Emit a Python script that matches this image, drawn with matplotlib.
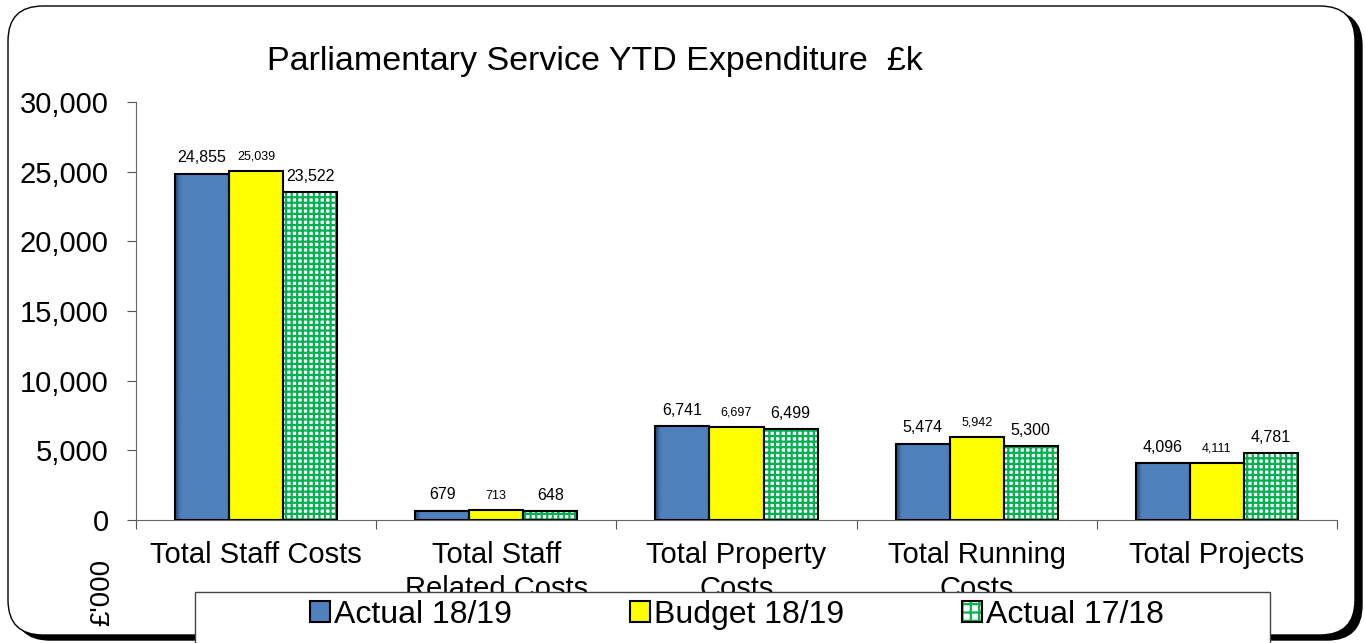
import numpy as np
import matplotlib.pyplot as plt
from matplotlib.patches import FancyBboxPatch, Rectangle, Patch
from matplotlib.colors import LinearSegmentedColormap

plt.rcParams['font.family'] = ['Liberation Sans', 'DejaVu Sans']
plt.rcParams['hatch.linewidth'] = 1.6

# data (£k)
categories = ["Total Staff Costs", "Total Staff\nRelated Costs", "Total Property\nCosts",
              "Total Running\nCosts", "Total Projects"]
actual_1819 = [24855, 679, 6741, 5474, 4096]
budget_1819 = [25039, 713, 6697, 5942, 4111]
actual_1718 = [23522, 648, 6499, 5300, 4781]
series_names = ["Actual 18/19", "Budget 18/19", "Actual 17/18"]

blue = "#4F81BD"
yellow = "#FFFF00"
green = "#00B050"

fig = plt.figure(figsize=(13.65, 6.43), dpi=100)

# rounded outer frame with drop shadow (in inches so corners stay round)
shadow = FancyBboxPatch((0.15, 0.03), 13.47, 6.29, boxstyle="round,pad=0,rounding_size=0.35",
                        transform=fig.dpi_scale_trans, facecolor="black", edgecolor="black", lw=1)
frame = FancyBboxPatch((0.08, 0.08), 13.47, 6.29, boxstyle="round,pad=0,rounding_size=0.35",
                       transform=fig.dpi_scale_trans, facecolor="white", edgecolor="black", lw=1)
shadow.set_zorder(-2)
frame.set_zorder(-1)
fig.add_artist(shadow)
fig.add_artist(frame)

ax = fig.add_axes([0.0996, 0.1913, 0.8799, 0.650])
ax.patch.set_alpha(0)

x = np.arange(len(categories))
w = 0.225

blue_bars = ax.bar(x - w, actual_1819, w, color=blue, lw=0, zorder=2)
ax.bar(x - w, actual_1819, w, fill=False, edgecolor="black", lw=1.5, zorder=3)
ax.bar(x, budget_1819, w, color=yellow, edgecolor="black", lw=1.5, zorder=2)
ax.bar(x + w, actual_1718, w, color="white", edgecolor=green, hatch="+++", lw=0, zorder=2)
ax.bar(x + w, actual_1718, w, fill=False, edgecolor="black", lw=1.5, zorder=3)

# darker shading on the left edge of the blue bars
shade = LinearSegmentedColormap.from_list("shade", ["#27466e", blue, blue, "#46729f"])
grad = np.concatenate([np.linspace(0, 0.45, 12), np.full(60, 0.5), np.linspace(0.55, 1, 8)])[None, :]
for b in blue_bars:
    im = ax.imshow(grad, cmap=shade, vmin=0, vmax=1, aspect="auto", zorder=2.5,
                   extent=[b.get_x(), b.get_x() + b.get_width(), 0, b.get_height()])
    im.set_clip_path(b)

# value labels
for xi, v in zip(x - w, actual_1819):
    ax.annotate(f"{v:,}", (xi, v), xytext=(0, 6), textcoords="offset points",
                ha="center", va="bottom", fontsize=11.5)
for xi, v in zip(x, budget_1819):
    ax.annotate(f"{v:,}", (xi, v), xytext=(0, 6), textcoords="offset points",
                ha="center", va="bottom", fontsize=9)
for xi, v in zip(x + w, actual_1718):
    ax.annotate(f"{v:,}", (xi, v), xytext=(0, 6), textcoords="offset points",
                ha="center", va="bottom", fontsize=11.5)

ax.set_xlim(-0.5, len(categories) - 0.5)
ax.set_ylim(0, 30000)
yt = np.arange(0, 30001, 5000)
ax.set_yticks(yt)
ax.set_yticklabels([f"{t:,}" for t in yt], fontsize=21)

# category separators as major ticks, labels on minor ticks
ax.set_xticks(np.arange(-0.5, len(categories)))
ax.set_xticklabels([])
ax.set_xticks(x, minor=True)
ax.set_xticklabels(categories, minor=True, fontsize=21, linespacing=1.3)
ax.tick_params(axis="x", which="minor", length=0, pad=15)
ax.tick_params(axis="x", which="major", length=6.5, color="#555555")
ax.tick_params(axis="y", length=6.5, color="#555555", pad=13)

for s in ["top", "right"]:
    ax.spines[s].set_visible(False)
for s in ["left", "bottom"]:
    ax.spines[s].set_color("#666666")

fig.text(0.436, 0.9036, "Parliamentary Service YTD Expenditure  £k", fontsize=24.5,
         ha="center", va="center")
fig.text(102 / 1365, 1 - 592 / 643, "£'000", rotation=90, fontsize=20,
         ha="center", va="center")

# legend box covering the bottom, as in the original
box = Rectangle((195 / 1365, -0.05), (1270 - 195) / 1365, 0.05 + 1 - 592 / 643,
                transform=fig.transFigure, facecolor="white", edgecolor="#444444", lw=1, zorder=3)
fig.add_artist(box)

handles = [
    Patch(facecolor=blue, edgecolor="black", lw=1.5),
    Patch(facecolor=yellow, edgecolor="black", lw=1.5),
    (Patch(facecolor="white", edgecolor=green, hatch="++", lw=0),
     Patch(fill=False, edgecolor="black", lw=1.5)),
]
leg = fig.legend(handles, series_names, loc="center", bbox_to_anchor=(737 / 1365, 1 - 615 / 643),
                 ncol=3, frameon=False, fontsize=23, handlelength=0.62, handleheight=0.62,
                 handletextpad=0.12, columnspacing=3.7, borderaxespad=0)
leg.set_zorder(4)

fig.savefig("out.png", dpi=100)
